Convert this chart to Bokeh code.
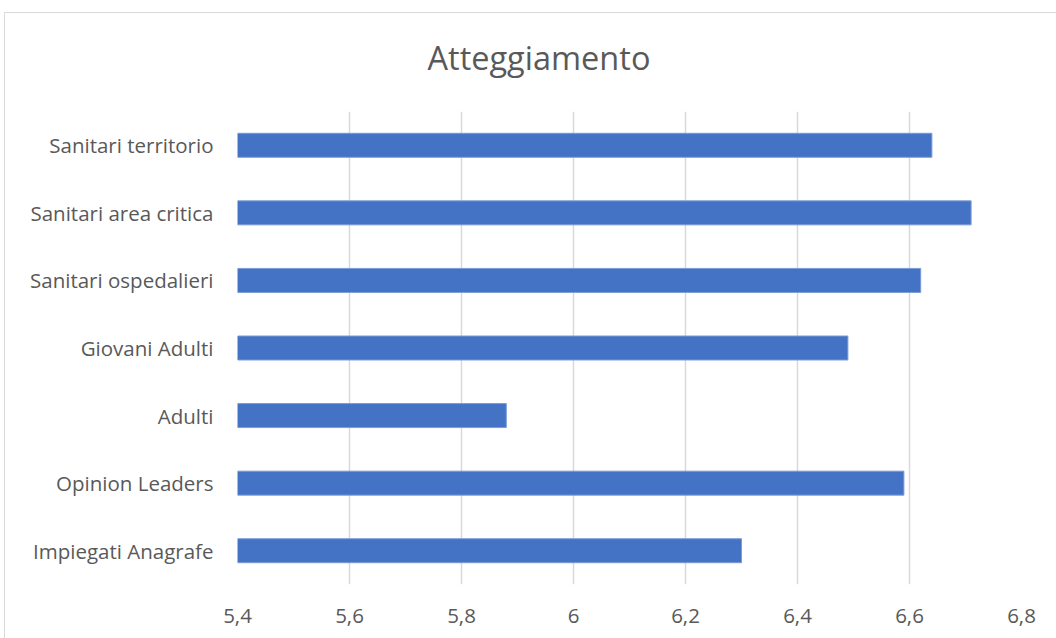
from bokeh.plotting import figure
from bokeh.models import FactorRange, Range1d, FixedTicker, CustomJSTickFormatter
from bokeh.embed import file_html
from bokeh.resources import INLINE

categories = ["Sanitari territorio", "Sanitari area critica", "Sanitari ospedalieri",
              "Giovani Adulti", "Adulti", "Opinion Leaders", "Impiegati Anagrafe"]
values = [6.64, 6.71, 6.62, 6.49, 5.88, 6.59, 6.30]
x_ticks = [5.4, 5.6, 5.8, 6.0, 6.2, 6.4, 6.6, 6.8]
title_text = "Atteggiamento"

FONT = "Open Sans"
GREY = "#595959"
BORDER = "#d9d9d9"

p = figure(frame_width=784, frame_height=473, output_backend="svg", toolbar_location=None,
           y_range=FactorRange(*list(reversed(categories)), range_padding=0),
           x_range=Range1d(5.4, 6.8),
           min_border_left=237, min_border_right=35, min_border_top=111, min_border_bottom=54)
p.border_fill_color = None
p.background_fill_color = "white"
p.styles = {
    "background": (f"linear-gradient({BORDER}, {BORDER}) 4px 12px / 1px 100% no-repeat, "
                   f"linear-gradient({BORDER}, {BORDER}) 4px 12px / 100% 1px no-repeat, white")
}

p.hbar(y=categories, left=5.4, right=values, height=0.355,
       fill_color="#4472C4", line_color="#7b9bd6", line_width=1)

p.title.text = title_text
p.title.align = "left"
p.title.offset = 190
p.title.text_font = FONT
p.title.text_font_size = "32.5px"
p.title.text_font_style = "normal"
p.title.text_color = GREY
p.title.standoff = 63

p.outline_line_color = None
p.ygrid.grid_line_color = None
p.xgrid.grid_line_color = "#d9d9d9"
p.xgrid.grid_line_width = 1.5
p.xaxis.ticker = FixedTicker(ticks=x_ticks)
p.xaxis.formatter = CustomJSTickFormatter(code="""
var s = (Math.round(tick*10)/10).toString();
return s.replace('.', ',');
""")

for ax in (p.xaxis, p.yaxis):
    ax.axis_line_color = None
    ax.major_tick_line_color = None
    ax.minor_tick_line_color = None
    ax.major_tick_out = 0
    ax.major_tick_in = 0
    ax.major_label_text_font = FONT
    ax.major_label_text_font_size = "20.5px"
    ax.major_label_text_color = GREY

p.xaxis.major_label_standoff = 24
p.yaxis.major_label_standoff = 24

open("out.html", "w").write(file_html(p, INLINE))
